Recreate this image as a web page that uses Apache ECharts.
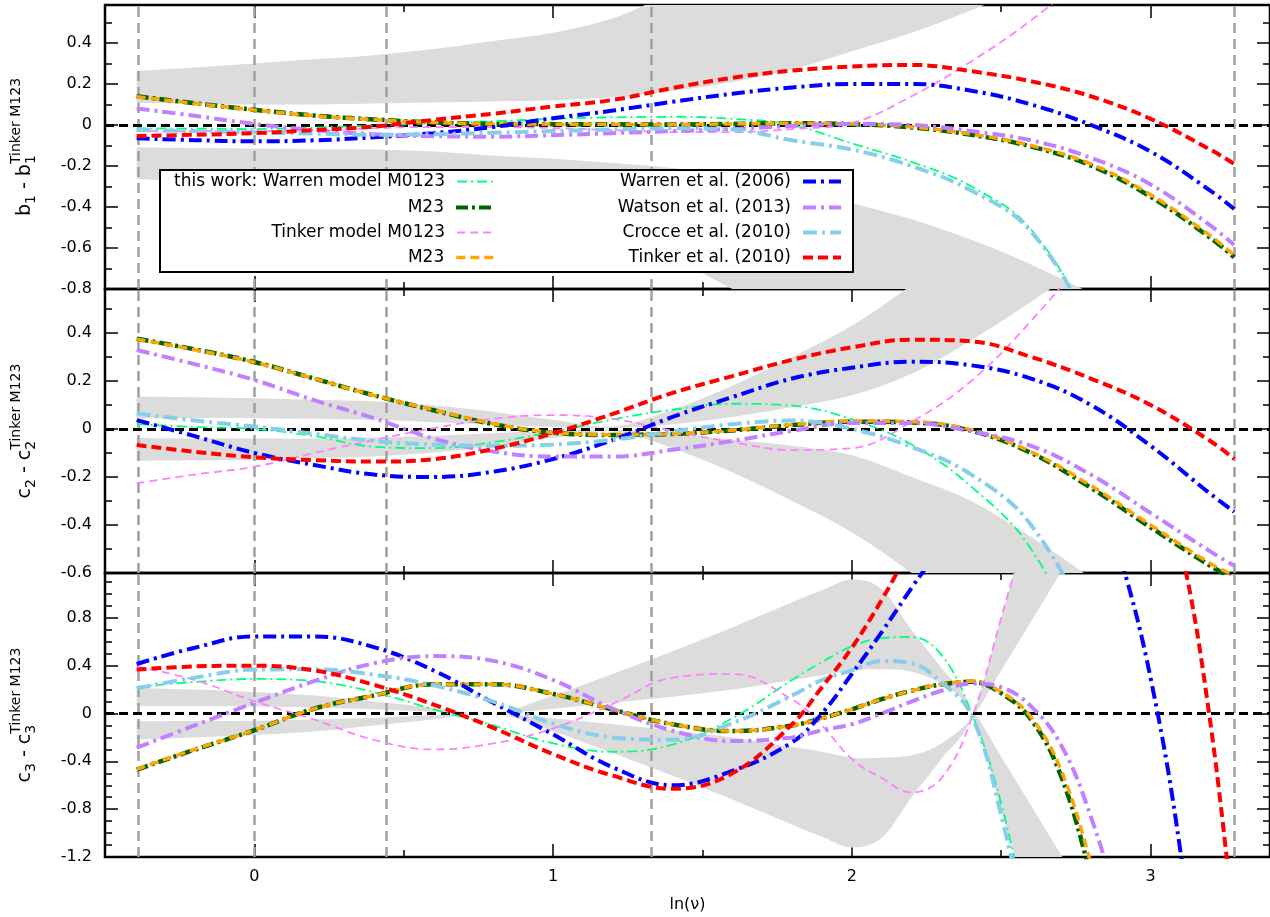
<!DOCTYPE html>
<html><head><meta charset="utf-8">
<script src="https://cdn.jsdelivr.net/npm/echarts@6/dist/echarts.min.js"></script>
<style>html,body{margin:0;padding:0;background:#fff}#c{width:1270px;height:917px}</style>
</head><body><div id="c"></div>
<script>
// ---------------- data ----------------
const lnNu = [-0.394, -0.2, 0, 0.2, 0.4, 0.6, 0.8, 1.0, 1.2, 1.4, 1.6, 1.8, 2.0, 2.2, 2.4, 2.6, 2.8, 3.0, 3.2, 3.28];
const lnNuFine = [-0.394, -0.2, 0, 0.2, 0.4, 0.6, 0.8, 1.0, 1.2, 1.4, 1.6, 1.8, 1.9, 2.0, 2.1, 2.2, 2.3, 2.4, 2.5, 2.6, 2.7, 2.8, 2.9, 3.0, 3.1, 3.2, 3.28];
const refLines = [-0.394, 0, 0.444, 1.326, 3.28];

const xMajorTicks = [0, 1, 2, 3];
const xMinorTicks = [0.5, 1.5, 2.5];
const yMajorB1 = [-0.8, -0.6, -0.4, -0.2, 0, 0.2, 0.4];
const yMinorB1 = [-0.7, -0.5, -0.3, -0.1, 0.1, 0.3, 0.5];
const yMajorC2 = [-0.6, -0.4, -0.2, 0, 0.2, 0.4];
const yMinorC2 = [-0.5, -0.3, -0.1, 0.1, 0.3, 0.5];
const yMajorC3 = [-1.2, -0.8, -0.4, 0, 0.4, 0.8];
const yMinorC3 = [-1.1, -1.0, -0.9, -0.7, -0.6, -0.5, -0.3, -0.2, -0.1, 0.1, 0.2, 0.3, 0.5, 0.6, 0.7, 0.9, 1.0, 1.1];

// panel 1 : b1 - b1^Tinker M123
const b1_wM0123 = [-0.016, -0.018, -0.02, -0.012, -0.003, 0.008, 0.018, 0.03, 0.037, 0.04, 0.03, 0.0, -0.09, -0.18, -0.3, -0.51, -1.0, -1.8, -2.6, -3.0];
const b1_wM23   = [0.14, 0.106, 0.074, 0.046, 0.027, 0.012, 0.005, 0.004, 0.003, 0.002, 0.005, 0.008, 0.004, -0.012, -0.048, -0.105, -0.198, -0.35, -0.55, -0.645];
const b1_tM0123 = [-0.03, -0.03, -0.03, -0.025, -0.015, -0.01, -0.01, -0.015, -0.025, -0.035, -0.035, -0.02, 0.01, 0.14, 0.31, 0.51, 0.75, 1.0, 1.3, 1.4];
const b1_tM23   = [0.138, 0.105, 0.073, 0.045, 0.026, 0.012, 0.005, 0.004, 0.003, 0.002, 0.005, 0.008, 0.005, -0.01, -0.045, -0.1, -0.19, -0.34, -0.54, -0.635];
const b1_warren = [-0.065, -0.074, -0.08, -0.075, -0.06, -0.04, -0.01, 0.033, 0.07, 0.113, 0.152, 0.183, 0.2, 0.2, 0.167, 0.1, 0.0, -0.13, -0.32, -0.41];
const b1_watson = [0.08, 0.045, 0.005, -0.025, -0.045, -0.055, -0.057, -0.05, -0.04, -0.03, -0.02, -0.005, 0.005, 0.0, -0.03, -0.075, -0.16, -0.29, -0.49, -0.585];
const b1_crocce = [-0.024, -0.03, -0.036, -0.042, -0.048, -0.045, -0.038, -0.03, -0.022, -0.016, -0.022, -0.075, -0.12, -0.2, -0.32, -0.52, -1.0, -1.7, -2.4, -2.7];
const b1_tinker = [-0.054, -0.048, -0.04, -0.025, -0.008, 0.025, 0.055, 0.09, 0.122, 0.18, 0.23, 0.265, 0.285, 0.293, 0.262, 0.213, 0.14, 0.03, -0.12, -0.19];
const b1_bandInUp  = [0.107, 0.104, 0.10, 0.10, 0.105, 0.11, 0.115, 0.12, 0.135, 0.165, 0.21, 0.27, 0.36, 0.45, 0.56, 0.68, 0.8, 0.95, 1.1, 1.2];
const b1_bandOutUp = [0.263, 0.28, 0.30, 0.32, 0.34, 0.37, 0.41, 0.45, 0.52, 0.65, 0.8, 0.95, 1.1, 1.25, 1.4, 1.55, 1.7, 1.85, 2.0, 2.1];
const b1_bandInLo  = [-0.11, -0.112, -0.115, -0.118, -0.12, -0.13, -0.15, -0.165, -0.185, -0.21, -0.25, -0.3, -0.38, -0.46, -0.56, -0.68, -0.82, -0.97, -1.1, -1.2];
const b1_bandOutLo = [-0.263, -0.28, -0.30, -0.32, -0.34, -0.37, -0.41, -0.45, -0.52, -0.65, -0.8, -0.95, -1.1, -1.25, -1.4, -1.55, -1.7, -1.85, -2.0, -2.1];

// panel 2 : c2 - c2^Tinker M123
const c2_wM0123 = [0.02, 0.008, 0.0, -0.03, -0.074, -0.08, -0.055, -0.012, 0.04, 0.08, 0.105, 0.097, 0.04, -0.065, -0.24, -0.5, -1.0, -1.7, -2.4, -2.7];
const c2_wM23   = [0.376, 0.332, 0.279, 0.21, 0.14, 0.078, 0.02, -0.016, -0.025, -0.021, -0.006, 0.016, 0.03, 0.027, -0.008, -0.1, -0.245, -0.41, -0.57, -0.625];
const c2_tM0123 = [-0.226, -0.19, -0.157, -0.1, -0.046, 0.003, 0.042, 0.058, 0.042, -0.008, -0.055, -0.088, -0.08, 0.03, 0.2, 0.45, 0.75, 1.1, 1.5, 1.7];
const c2_tM23   = [0.374, 0.33, 0.278, 0.21, 0.14, 0.08, 0.022, -0.015, -0.024, -0.02, -0.005, 0.018, 0.033, 0.03, -0.004, -0.095, -0.236, -0.4, -0.56, -0.61];
const c2_warren = [0.037, -0.03, -0.1, -0.15, -0.19, -0.2, -0.178, -0.125, -0.046, 0.05, 0.133, 0.21, 0.255, 0.28, 0.265, 0.21, 0.1, -0.07, -0.27, -0.345];
const c2_watson = [0.329, 0.27, 0.204, 0.12, 0.045, -0.04, -0.094, -0.115, -0.115, -0.087, -0.05, -0.008, 0.025, 0.025, -0.01, -0.07, -0.19, -0.35, -0.51, -0.57];
const c2_crocce = [0.065, 0.035, 0.01, -0.02, -0.05, -0.065, -0.07, -0.065, -0.045, -0.01, 0.02, 0.035, 0.0, -0.075, -0.19, -0.4, -0.85, -1.5, -2.1, -2.4];
const c2_tinker = [-0.067, -0.095, -0.118, -0.13, -0.136, -0.126, -0.083, -0.018, 0.063, 0.15, 0.22, 0.288, 0.34, 0.372, 0.365, 0.3, 0.21, 0.1, -0.05, -0.125];
const c2_bandInUp  = [0.045, 0.045, 0.045, 0.043, 0.038, 0.028, 0.018, 0.008, 0.003, 0.02, 0.05, 0.09, 0.14, 0.23, 0.37, 0.53, 0.7, 0.9, 1.1, 1.2];
const c2_bandOutUp = [0.135, 0.132, 0.128, 0.122, 0.115, 0.098, 0.072, 0.038, 0.01, 0.08, 0.18, 0.3, 0.43, 0.6, 0.8, 1.0, 1.2, 1.4, 1.6, 1.7];
const c2_bandInLo  = [-0.038, -0.04, -0.04, -0.04, -0.036, -0.028, -0.018, -0.008, -0.003, -0.02, -0.045, -0.07, -0.11, -0.2, -0.3, -0.45, -0.62, -0.8, -1.0, -1.1];
const c2_bandOutLo = [-0.132, -0.13, -0.128, -0.122, -0.115, -0.098, -0.072, -0.038, -0.01, -0.08, -0.18, -0.3, -0.43, -0.6, -0.8, -1.0, -1.2, -1.4, -1.6, -1.7];

// panel 3 : c3 - c3^Tinker M123  (on lnNuFine)
const c3_wM0123 = [0.222, 0.264, 0.289, 0.27, 0.178, 0.035, -0.1, -0.25, -0.32, -0.26, -0.04, 0.28, 0.43, 0.56, 0.63, 0.64, 0.49, 0.01, -0.75, -1.9, -3.1, -4.3, -5.5, -6.7, -7.9, -9.1, -10];
const c3_wM23   = [-0.47, -0.303, -0.14, 0.04, 0.15, 0.245, 0.245, 0.164, 0.033, -0.09, -0.147, -0.1, -0.04, 0.035, 0.12, 0.19, 0.243, 0.265, 0.17, -0.05, -0.52, -1.35, -2.3, -3.4, -4.5, -5.6, -6.5];
const c3_tM0123 = [0.394, 0.28, 0.103, -0.05, -0.22, -0.3, -0.25, -0.125, 0.08, 0.3, 0.33, 0.117, -0.1, -0.38, -0.54, -0.66, -0.54, -0.05, 0.8, 1.7, 2.8, 3.9, 5, 6, 7, 8, 9];
const c3_tM23   = [-0.467, -0.3, -0.139, 0.04, 0.15, 0.245, 0.245, 0.164, 0.033, -0.09, -0.147, -0.1, -0.04, 0.035, 0.12, 0.19, 0.245, 0.27, 0.18, -0.03, -0.47, -1.25, -2.2, -3.3, -4.4, -5.5, -6.4];
const c3_warren = [0.414, 0.55, 0.645, 0.645, 0.555, 0.36, 0.09, -0.175, -0.45, -0.6, -0.48, -0.24, 0.0, 0.33, 0.68, 1.05, 1.4, 1.75, 2.0, 2.2, 2.25, 2.05, 1.3, 0.3, -1.15, -3.2, -4.8];
const c3_watson = [-0.286, -0.1, 0.089, 0.27, 0.42, 0.48, 0.44, 0.28, 0.04, -0.144, -0.23, -0.2, -0.14, -0.09, 0.0, 0.1, 0.19, 0.25, 0.22, 0.06, -0.26, -0.86, -1.7, -2.7, -3.7, -4.7, -5.5];
const c3_crocce = [0.21, 0.3, 0.367, 0.37, 0.325, 0.235, 0.1, -0.085, -0.2, -0.22, -0.08, 0.15, 0.28, 0.36, 0.44, 0.42, 0.26, -0.01, -0.85, -2.0, -3.3, -4.6, -5.9, -7.2, -8.5, -9.8, -11];
const c3_tinker = [0.367, 0.394, 0.4, 0.36, 0.24, 0.075, -0.12, -0.34, -0.52, -0.63, -0.5, -0.09, 0.22, 0.55, 0.95, 1.4, 1.85, 2.3, 2.7, 3.0, 3.2, 3.2, 2.9, 2.2, 1.4, -0.07, -1.8];
const c3_bandInUp  = [0.061, 0.06, 0.058, 0.05, 0.035, 0.015, 0.0, 0.04, 0.09, 0.14, 0.2, 0.28, 0.32, 0.36, 0.37, 0.35, 0.25, 0.04, -0.36, -0.77, -1.18, -1.6, -2.0, -2.4, -2.8, -3.2, -3.5];
const c3_bandOutUp = [0.214, 0.2, 0.18, 0.15, 0.1, 0.05, 0.0, 0.15, 0.33, 0.52, 0.72, 0.93, 1.03, 1.12, 1.04, 0.7, 0.38, 0.04, -0.8, -1.7, -2.6, -3.5, -4.4, -5.3, -6.2, -7.1, -7.8];
const c3_bandInLo  = [-0.064, -0.062, -0.06, -0.05, -0.035, -0.015, 0.0, -0.04, -0.09, -0.14, -0.2, -0.28, -0.32, -0.37, -0.37, -0.35, -0.25, -0.04, 0.36, 0.77, 1.18, 1.6, 2.0, 2.4, 2.8, 3.2, 3.5];
const c3_bandOutLo = [-0.217, -0.2, -0.18, -0.15, -0.1, -0.05, 0.0, -0.15, -0.33, -0.52, -0.72, -0.93, -1.03, -1.12, -1.04, -0.7, -0.38, -0.04, 0.8, 1.7, 2.6, 3.5, 4.4, 5.3, 6.2, 7.1, 7.8];

const legendLabels = {
  wM0123: 'this work: Warren model M0123', wM23: 'M23', tM0123: 'Tinker model M0123', tM23: 'M23',
  warren: 'Warren et al. (2006)', watson: 'Watson et al. (2013)', crocce: 'Crocce et al. (2010)', tinker: 'Tinker et al. (2010)'
};

// ---------------- styles / layout ----------------
const FONT = 'DejaVu Sans';
const styles = {
  wM0123: {color: '#00ff7f', width: 1.8, type: [10, 4, 2, 4]},
  wM23:   {color: '#006400', width: 4.5, type: [12, 4, 3, 4]},
  tM0123: {color: '#ff80ff', width: 1.8, type: [8, 5]},
  tM23:   {color: '#ffa500', width: 3.5, type: [9, 5]},
  warren: {color: '#0000ff', width: 4, type: [13, 5, 3, 5]},
  watson: {color: '#c080ff', width: 4, type: [13, 5, 3, 5]},
  crocce: {color: '#87ceeb', width: 4, type: [14, 5, 3, 5]},
  tinker: {color: '#ff0000', width: 4, type: [10, 5]}
};
const order = ['wM0123', 'wM23', 'tM0123', 'tM23', 'warren', 'watson', 'crocce', 'tinker'];

const panels = [
  {top: 5, ymin: -0.8, ymax: 0.585, major: yMajorB1, minor: yMinorB1, xs: lnNu,
   curves: {wM0123: b1_wM0123, wM23: b1_wM23, tM0123: b1_tM0123, tM23: b1_tM23, warren: b1_warren, watson: b1_watson, crocce: b1_crocce, tinker: b1_tinker},
   band: [b1_bandInUp, b1_bandOutUp, b1_bandInLo, b1_bandOutLo], sym: ['b', '1']},
  {top: 289, ymin: -0.6, ymax: 0.583, major: yMajorC2, minor: yMinorC2, xs: lnNu,
   curves: {wM0123: c2_wM0123, wM23: c2_wM23, tM0123: c2_tM0123, tM23: c2_tM23, warren: c2_warren, watson: c2_watson, crocce: c2_crocce, tinker: c2_tinker},
   band: [c2_bandInUp, c2_bandOutUp, c2_bandInLo, c2_bandOutLo], sym: ['c', '2']},
  {top: 573, ymin: -1.2, ymax: 1.175, major: yMajorC3, minor: yMinorC3, xs: lnNuFine,
   curves: {wM0123: c3_wM0123, wM23: c3_wM23, tM0123: c3_tM0123, tM23: c3_tM23, warren: c3_warren, watson: c3_watson, crocce: c3_crocce, tinker: c3_tinker},
   band: [c3_bandInUp, c3_bandOutUp, c3_bandInLo, c3_bandOutLo], sym: ['c', '3']}
];
const PH = 284, GL = 105, GW = 1168;

// smooth path through pixel points (Catmull-Rom -> cubic Bezier)
function splinePath(pts, first) {
  let d = (first ? 'M' : 'L') + pts[0][0] + ',' + pts[0][1];
  for (let i = 0; i < pts.length - 1; i++) {
    const p0 = pts[Math.max(i - 1, 0)], p1 = pts[i], p2 = pts[i + 1], p3 = pts[Math.min(i + 2, pts.length - 1)];
    const c1x = p1[0] + (p2[0] - p0[0]) / 6, c1y = p1[1] + (p2[1] - p0[1]) / 6;
    const c2x = p2[0] - (p3[0] - p1[0]) / 6, c2y = p2[1] - (p3[1] - p1[1]) / 6;
    d += 'C' + c1x + ',' + c1y + ',' + c2x + ',' + c2y + ',' + p2[0] + ',' + p2[1];
  }
  return d;
}

const grids = [], xAxes = [], yAxes = [], series = [];
const tickStyle = {color: '#000', width: 1.5};
const lblStyle = {fontFamily: FONT, fontSize: 16, color: '#000'};

panels.forEach((p, pi) => {
  grids.push({left: GL, top: p.top, width: GW, height: PH, show: true, borderColor: '#000', borderWidth: 2.5, backgroundColor: 'transparent'});
  const isLast = pi === panels.length - 1;
  [['bottom', true], ['bottom', false], ['top', true], ['top', false]].forEach(([pos, maj]) => {
    const lab = isLast && pos === 'bottom' && maj;
    xAxes.push({
      type: 'value', gridIndex: pi, min: -0.5, max: 3.4, position: pos,
      axisLine: {show: false, onZero: false}, splitLine: {show: false},
      axisTick: {show: true, inside: true, length: maj ? 13 : 7, customValues: maj ? xMajorTicks : xMinorTicks, lineStyle: tickStyle},
      axisLabel: {show: lab, customValues: xMajorTicks, margin: 12, ...lblStyle},
      name: lab ? 'ln(\u03bd)' : '', nameLocation: 'middle', nameGap: 40, nameTextStyle: lblStyle
    });
  });
  [['left', true], ['left', false], ['right', true], ['right', false]].forEach(([pos, maj]) => {
    yAxes.push({
      type: 'value', gridIndex: pi, min: p.ymin, max: p.ymax, position: pos,
      axisLine: {show: false, onZero: false}, splitLine: {show: false},
      axisTick: {show: true, inside: true, length: maj ? 13 : 7, customValues: maj ? p.major : p.minor, lineStyle: tickStyle},
      axisLabel: {show: pos === 'left' && maj, customValues: p.major, margin: 13, ...lblStyle}
    });
  });
  const xi = pi * 4, yi = pi * 4;
  // gray bands (between inner and outer edge, above and below zero)
  const band = (inner, outer) => ({
    type: 'custom', xAxisIndex: xi, yAxisIndex: yi, silent: true, z: 1, clip: true,
    data: p.xs.map((x, i) => [x, inner[i]]),
    renderItem: (params, api) => {
      if (params.dataIndex !== 0) return null;
      const up = p.xs.map((x, i) => api.coord([x, outer[i]]));
      const lo = p.xs.map((x, i) => api.coord([x, inner[i]])).reverse();
      return {type: 'path', shape: {pathData: splinePath(up, true) + splinePath(lo, false) + 'Z'}, style: {fill: '#dcdcdc', stroke: null}};
    }
  });
  series.push(band(p.band[0], p.band[1]));
  series.push(band(p.band[2], p.band[3]));
  const mk = (ys) => p.xs.map((x, i) => [x, ys[i]]);
  order.forEach((k, oi) => {
    const st = styles[k];
    const s = {type: 'line', name: k, xAxisIndex: xi, yAxisIndex: yi, data: mk(p.curves[k]),
      smooth: 0.4, symbol: 'none', showSymbol: false, clip: true, silent: true, z: 5 + oi,
      lineStyle: {color: st.color, width: st.width, type: st.type, cap: 'butt'}, itemStyle: {color: st.color}};
    if (oi === 0) {
      s.markLine = {silent: true, symbol: ['none', 'none'], label: {show: false}, animation: false, z: 3,
        data: refLines.map(v => ({xAxis: v, lineStyle: {color: '#a0a0a0', width: 2.5, type: [10, 6]}}))
          .concat([{yAxis: 0, lineStyle: {color: '#000', width: 3, type: [9, 5]}}])};
    }
    series.push(s);
  });
});

// legends (one per entry so the text is right-aligned against the sample)
const legendRows = [183, 209, 234, 259];
const legendCols = [{iconRight: 496, keys: ['wM0123', 'wM23', 'tM0123', 'tM23']}, {iconRight: 843, keys: ['warren', 'watson', 'crocce', 'tinker']}];
const legends = [];
legendCols.forEach(col => col.keys.forEach((k, r) => {
  const st = styles[k];
  legends.push({show: true, orient: 'horizontal', right: 1270 - col.iconRight, top: legendRows[r] - 10, padding: 0,
    itemWidth: 38, itemHeight: 14, align: 'right', selectedMode: false, z: 20,
    data: [{name: k}], formatter: () => legendLabels[k],
    textStyle: {fontFamily: FONT, fontSize: 17, color: '#000', padding: [0, 7, 0, 0]},
    lineStyle: {color: st.color, width: Math.min(st.width, 4), type: st.type, cap: 'butt'},
    itemStyle: {opacity: 0}});
}));

// rotated y titles
const cv = document.createElement('canvas').getContext('2d');
function tw(t, s) { cv.font = s + 'px "' + FONT + '"'; return cv.measureText(t).width; }
function yTitle(cy, a, s) {
  const M = 19, S = 14;
  const w1 = tw(a, M), ws = tw(s, S), w2 = tw(' - ' + a, M), wsup = tw('Tinker M123', S);
  const total = w1 + ws + w2 + Math.max(ws, wsup);
  const x0 = -total / 2;
  const T = (text, x, y, size) => ({type: 'text', x: x, y: y, style: {text: text, fontFamily: FONT, fontSize: size, fill: '#000', align: 'left', verticalAlign: 'middle'}});
  return {type: 'group', x: 25, y: cy, rotation: Math.PI / 2, children: [
    T(a, x0, 0, M), T(s, x0 + w1, 6, S), T(' - ' + a, x0 + w1 + ws, 0, M),
    T(s, x0 + w1 + ws + w2, 6, S), T('Tinker M123', x0 + w1 + ws + w2, -9, S)]};
}
const graphics = panels.map(p => yTitle(p.top + PH / 2, p.sym[0], p.sym[1]));
graphics.push({type: 'rect', z: 15, shape: {x: 160, y: 170, width: 693, height: 102}, style: {fill: '#fff', stroke: '#000', lineWidth: 2}});

const chart = echarts.init(document.getElementById('c'));
chart.setOption({
  animation: false, backgroundColor: '#fff',
  grid: grids, xAxis: xAxes, yAxis: yAxes, series: series, legend: legends, graphic: graphics
});
</script></body></html>
